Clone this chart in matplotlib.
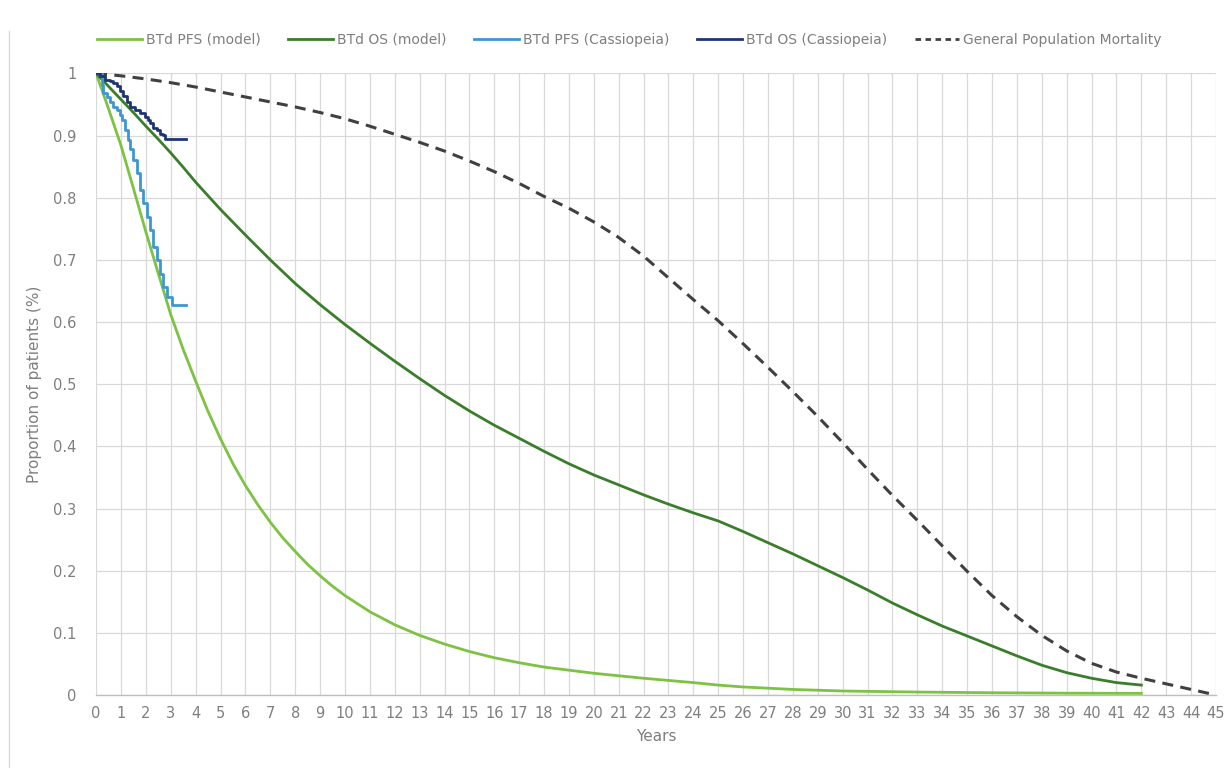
import matplotlib
matplotlib.use("Agg")
import matplotlib.pyplot as plt
from matplotlib.lines import Line2D

# BTd PFS (model)
pfs_model_years = [0, 0.5, 1, 1.5, 2, 2.5, 3, 3.5, 4, 4.5, 5, 5.5, 6, 6.5, 7, 7.5, 8, 8.5,
                   9, 9.5, 10, 11, 12, 13, 14, 15, 16, 17, 18, 19, 20, 22, 24, 25, 26,
                   28, 30, 33, 36, 39, 42]
pfs_model = [1.0, 0.943, 0.884, 0.815, 0.745, 0.678, 0.612, 0.556, 0.505, 0.456, 0.412,
             0.372, 0.337, 0.306, 0.278, 0.253, 0.231, 0.21, 0.192, 0.175, 0.16, 0.134,
             0.113, 0.096, 0.082, 0.07, 0.06, 0.052, 0.045, 0.04, 0.035, 0.027, 0.02,
             0.016, 0.013, 0.009, 0.0065, 0.0048, 0.0037, 0.003, 0.0027]

# BTd OS (model)
os_model_years = [0, 0.5, 1, 1.5, 2, 2.5, 3, 3.5] + list(range(4, 43))
os_model = [1.0, 0.979, 0.958, 0.937, 0.915, 0.894, 0.872, 0.849, 0.825, 0.781, 0.74,
            0.7, 0.662, 0.628, 0.596, 0.566, 0.537, 0.509, 0.482, 0.457, 0.434,
            0.413, 0.392, 0.372, 0.354, 0.338, 0.322, 0.307, 0.293, 0.28, 0.263,
            0.245, 0.227, 0.208, 0.189, 0.169, 0.148, 0.129, 0.111, 0.095, 0.079,
            0.063, 0.048, 0.036, 0.027, 0.02, 0.016]

# BTd PFS (Cassiopeia) - KM steps
pfs_cas_years = [0, 0.23, 0.29, 0.43, 0.56, 0.69, 0.83, 0.96, 1.05, 1.16, 1.29, 1.36,
                 1.49, 1.63, 1.76, 1.89, 2.05, 2.16, 2.29, 2.43, 2.56, 2.69, 2.83,
                 3.03, 3.6]
pfs_cas = [1.0, 0.981, 0.968, 0.962, 0.954, 0.946, 0.941, 0.933, 0.925, 0.909, 0.893,
           0.879, 0.861, 0.839, 0.812, 0.791, 0.769, 0.748, 0.721, 0.70, 0.678, 0.657,
           0.641, 0.627, 0.627]

# BTd OS (Cassiopeia) - KM steps
os_cas_years = [0, 0.16, 0.36, 0.56, 0.69, 0.83, 0.96, 1.09, 1.23, 1.36, 1.56, 1.76,
                1.96, 2.09, 2.16, 2.29, 2.43, 2.56, 2.69, 2.76, 3.6]
os_cas = [1.0, 0.995, 0.99, 0.988, 0.984, 0.979, 0.971, 0.963, 0.954, 0.946, 0.941,
          0.936, 0.93, 0.925, 0.92, 0.912, 0.909, 0.903, 0.901, 0.894, 0.894]

# General Population Mortality
gen_years = list(range(0, 46))
gen_pop = [1.0, 0.996, 0.991, 0.985, 0.978, 0.970, 0.962, 0.954, 0.946, 0.937, 0.927,
           0.915, 0.902, 0.889, 0.875, 0.859, 0.842, 0.823, 0.802, 0.783, 0.761, 0.736,
           0.706, 0.671, 0.636, 0.602, 0.565, 0.527, 0.488, 0.448, 0.406, 0.363, 0.321,
           0.281, 0.240, 0.199, 0.160, 0.126, 0.096, 0.071, 0.051, 0.037, 0.027, 0.018,
           0.009, 0.0]

labels = ["BTd PFS (model)", "BTd OS (model)", "BTd PFS (Cassiopeia)",
          "BTd OS (Cassiopeia)", "General Population Mortality"]
colors = ["#7DC242", "#3A7D2A", "#3D97D3", "#1F3474", "#404040"]

text_grey = "#7F7F7F"
grid_grey = "#D9D9D9"

fig = plt.figure(figsize=(12.32, 7.68), dpi=100)
ax = fig.add_axes([0.078, 0.095, 0.909, 0.8095])

lw = 2.0
ax.plot(pfs_model_years, pfs_model, color=colors[0], lw=lw, zorder=3)
ax.plot(os_model_years, os_model, color=colors[1], lw=lw, zorder=3)
ax.plot(pfs_cas_years, pfs_cas, color=colors[2], lw=lw, drawstyle="steps-post", zorder=4)
ax.plot(os_cas_years, os_cas, color=colors[3], lw=lw, drawstyle="steps-post", zorder=4)
ax.plot(gen_years, gen_pop, color=colors[4], lw=2.2, ls=(0, (3.6, 2.4)), zorder=3)

ax.set_xlim(0, 45)
ax.set_ylim(0, 1)
ax.set_xticks(range(0, 46))
ax.set_yticks([i / 10 for i in range(11)])
ax.set_yticklabels(["0"] + [f"{i / 10:.1f}" for i in range(1, 10)] + ["1"])
ax.tick_params(length=0, colors=text_grey, labelsize=10.5)
ax.tick_params(axis="x", pad=8)
ax.tick_params(axis="y", pad=14)
ax.grid(True, color=grid_grey, lw=0.9)
ax.set_axisbelow(True)
for side in ["top", "right", "left"]:
    ax.spines[side].set_visible(False)
ax.spines["bottom"].set_color("#BFBFBF")
ax.spines["bottom"].set_linewidth(1.0)

ax.set_xlabel("Years", color=text_grey, fontsize=11, labelpad=6)
ax.set_ylabel("Proportion of patients (%)", color=text_grey, fontsize=11, labelpad=8)

handles = [Line2D([], [], color=c, lw=2.0) for c in colors[:4]]
handles.append(Line2D([], [], color=colors[4], lw=2.0, ls=(0, (2, 1.6))))
leg = fig.legend(handles, labels, loc="center", bbox_to_anchor=(0.511, 0.948),
                 ncol=5, frameon=False, fontsize=10, handlelength=3.2,
                 handletextpad=0.3, columnspacing=2.0)
for t in leg.get_texts():
    t.set_color(text_grey)

# chart area border on the left
fig.add_artist(Line2D([9 / 1232, 9 / 1232], [0, 1 - 31 / 768],
                      transform=fig.transFigure, color=grid_grey, lw=1.0))

fig.savefig("out.png", dpi=100)
